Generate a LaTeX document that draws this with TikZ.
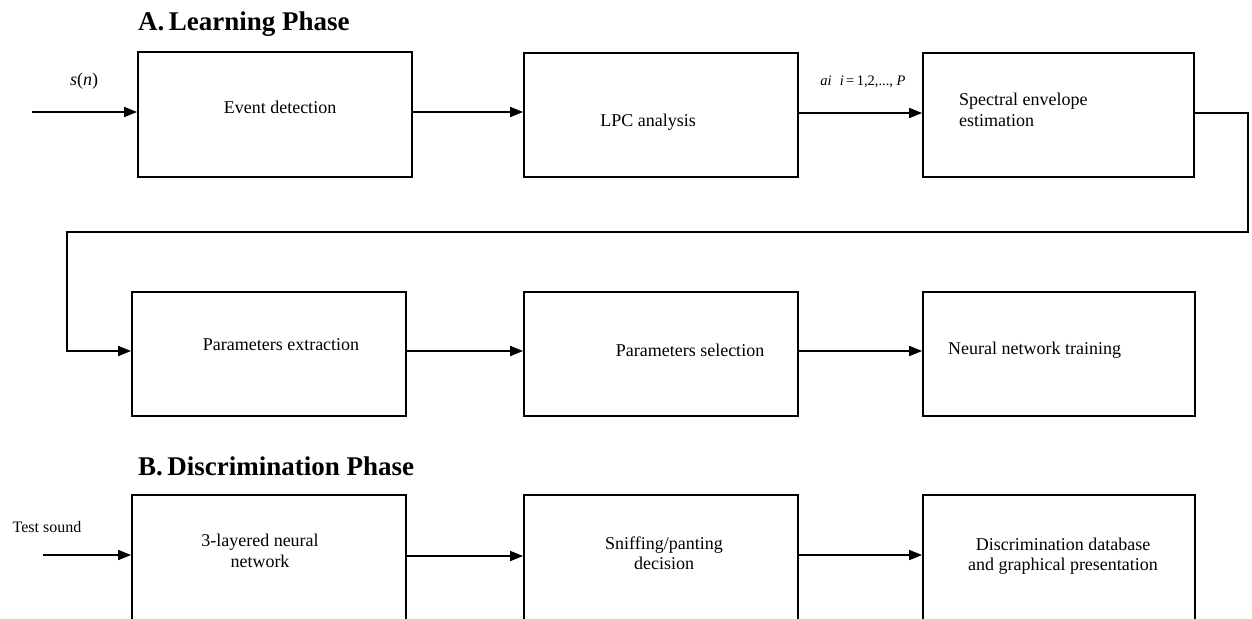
\documentclass[tikz,border=0pt]{standalone}
\usepackage{fontspec}
\setmainfont{Liberation Serif}
\usetikzlibrary{arrows.meta}
\begin{document}
\begin{tikzpicture}[x=1pt,y=-1pt,
  blk/.style={draw=black,line width=1.7pt,minimum width=#1,inner sep=0pt},
  arr/.style={draw=black,line width=1.4pt,-{Triangle[length=13pt,width=10pt]}},
  txt/.style={font=\fontsize{18}{20.5}\selectfont,inner sep=0pt,align=center},
  ttl/.style={font=\fontsize{27}{30}\selectfont\bfseries,inner sep=0pt,anchor=base west}]
\useasboundingbox (0,0) rectangle (1252,618);
\clip (0,0) rectangle (1252,618);
% titles
\node[ttl] (tA) at (138,31) {A.\,Learning Phase};
\node[ttl] (tB) at (138,475) {B.\,Discrimination Phase};
% row 1
\node[blk=274pt,minimum height=125pt] (b1) at (275,114.5) {};
\node[blk=274pt,minimum height=124pt] (b2) at (661,115) {};
\node[blk=271pt,minimum height=124pt] (b3) at (1058.5,115) {};
% row 2
\node[blk=274pt,minimum height=124pt] (b4) at (269,354) {};
\node[blk=274pt,minimum height=124pt] (b5) at (661,354) {};
\node[blk=272pt,minimum height=124pt] (b6) at (1059,354) {};
% row 3 (cut by the page edge)
\node[blk=274pt,minimum height=132pt] (b7) at (269,561) {};
\node[blk=274pt,minimum height=132pt] (b8) at (661,561) {};
\node[blk=272pt,minimum height=132pt] (b9) at (1059,561) {};
% texts in boxes
\node[txt] (t1) at (280,107) {Event detection};
\node[txt] (t2) at (648,122) {LPC analysis};
\node[txt,anchor=west,align=left] (t3) at (959,110) {Spectral envelope\\estimation};
\node[txt] (t4) at (281,345) {Parameters extraction};
\node[txt] (t5) at (690,350) {Parameters selection};
\node[txt,anchor=west] (t6) at (948,350) {Neural network training};
\node[txt] (t7) at (260,551) {3-layered neural\\network};
\node[txt] (t8) at (664,553) {Sniffing/panting\\decision};
\node[txt] (t9) at (1063,556) {Discrimination database\\and graphical presentation};
% outside labels
\node[txt] (ls) at (84,81) {\textit{s}(\textit{n})};
\node[font=\fontsize{14.5}{16}\selectfont,inner sep=0pt] (la) at (863,82) {\textit{ai}\hspace{8pt}\textit{i}\,=\,1,2,..., \textit{P}};
\node[font=\fontsize{16}{18}\selectfont,inner sep=0pt] (lt) at (47,527) {Test sound};
% coordinates
\coordinate (in1) at (32,112);
\coordinate (in3) at (43,555);
\coordinate (r1) at (1248,232);
\coordinate (l1) at (67,232);
% connectors
\draw[arr] (in1) -- (in1 -| b1.west);
\draw[arr] (b1.east |- 0,112) -- (b2.west |- 0,112);
\draw[arr] (b2.east |- 0,113) -- (b3.west |- 0,113);
\draw[arr] (b3.east |- 0,113) -| (r1) -- (l1) |- (b4.west |- 0,351);
\draw[arr] (b4.east |- 0,351) -- (b5.west |- 0,351);
\draw[arr] (b5.east |- 0,351) -- (b6.west |- 0,351);
\draw[arr] (in3) -- (in3 -| b7.west);
\draw[arr] (b7.east |- 0,556) -- (b8.west |- 0,556);
\draw[arr] (b8.east |- 0,555) -- (b9.west |- 0,555);
\end{tikzpicture}
\end{document}
